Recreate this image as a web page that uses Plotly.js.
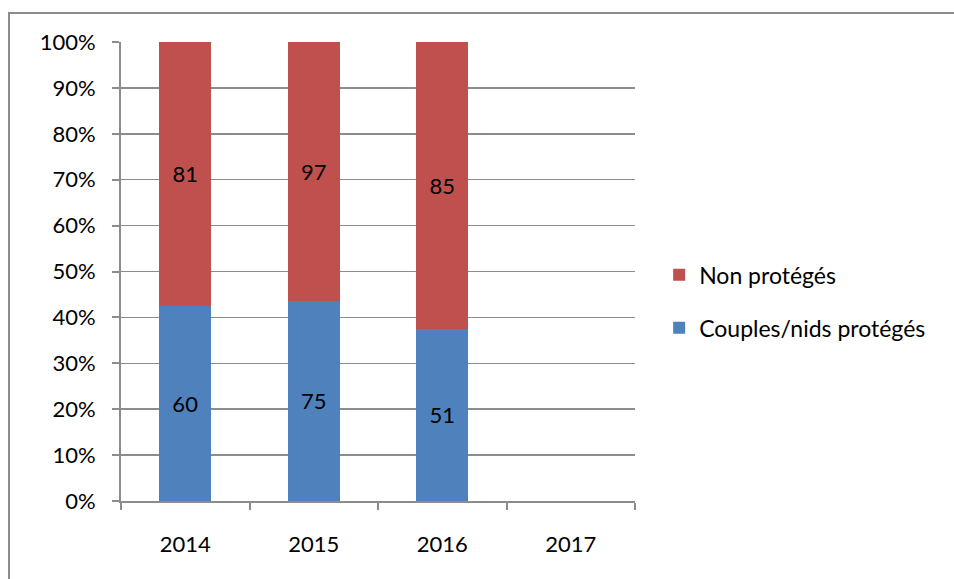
<!DOCTYPE html>
<html>
<head>
<meta charset="utf-8">
<script src="https://cdn.plot.ly/plotly-3.0.1.min.js"></script>
<style>
  html, body { margin: 0; padding: 0; background: #fff; }
  #wrap { position: relative; width: 954px; height: 579px; }
  #chart { position: absolute; left: 0; top: 0; width: 954px; height: 579px; }
  #frame { position: absolute; left: 8px; top: 12px; width: 946px; height: 567px;
           border-top: 2px solid #8c8c8c; border-left: 2px solid #8c8c8c; pointer-events: none; }
</style>
</head>
<body>
<div id="wrap">
  <div id="chart"></div>
  <div id="frame"></div>
</div>
<script>
const years = ['2014', '2015', '2016', '2017'];
const nonProteges = [81, 97, 85, null];
const proteges = [60, 75, 51, null];
const yTicks = [0, 10, 20, 30, 40, 50, 60, 70, 80, 90, 100];
const yTickLabels = yTicks.map(v => v + '%');

const FONT = 'Lato, "Open Sans", "DejaVu Sans", sans-serif';

const traces = [
  {
    type: 'bar', name: 'Couples/nids protégés', x: years, y: proteges,
    text: proteges.map(v => v == null ? '' : String(v)),
    textposition: 'inside', insidetextanchor: 'middle',
    textfont: { family: FONT, size: 22, color: '#000' },
    marker: { color: '#4F81BD' }, legendgroup: 'a', legendrank: 2, hoverinfo: 'skip'
  },
  {
    type: 'bar', name: 'Non protégés', x: years, y: nonProteges,
    text: nonProteges.map(v => v == null ? '' : String(v)),
    textposition: 'inside', insidetextanchor: 'middle',
    textfont: { family: FONT, size: 22, color: '#000' },
    marker: { color: '#C0504D' }, legendgroup: 'b', legendrank: 1, hoverinfo: 'skip'
  }
];

const layout = {
  width: 954, height: 579,
  margin: { l: 121, r: 319, t: 42, b: 78 },
  paper_bgcolor: 'rgba(0,0,0,0)', plot_bgcolor: 'rgba(0,0,0,0)',
  barmode: 'stack', barnorm: 'percent', bargap: 0.595,
  font: { family: FONT, size: 22, color: '#000' },
  showlegend: true,
  legend: {
    x: 1.047, xanchor: 'left', y: 0.435, yanchor: 'middle',
    traceorder: 'grouped', tracegroupgap: 20,
    font: { family: FONT, size: 23, color: '#000' },
    bgcolor: 'rgba(0,0,0,0)'
  },
  xaxis: {
    type: 'category', categoryorder: 'array', categoryarray: years,
    range: [-0.5, 3.5], showline: true, linecolor: '#8c8c8c', linewidth: 2,
    ticks: 'outside', tickson: 'boundaries', ticklen: 7, tickcolor: '#8c8c8c', tickwidth: 2,
    ticklabelstandoff: 23, showgrid: false, fixedrange: true,
    tickfont: { family: FONT, size: 22, color: '#000' }
  },
  yaxis: {
    range: [0, 100], tickvals: yTicks, ticktext: yTickLabels,
    showline: true, linecolor: '#8c8c8c', linewidth: 2,
    ticks: 'outside', ticklen: 7, tickcolor: '#8c8c8c', tickwidth: 2,
    ticklabelstandoff: 12,
    showgrid: true, gridcolor: '#8c8c8c', gridwidth: 1.5, zeroline: false, fixedrange: true,
    tickfont: { family: FONT, size: 22, color: '#000' }
  }
};

Plotly.newPlot('chart', traces, layout, { displayModeBar: false, staticPlot: true });
</script>
</body>
</html>
